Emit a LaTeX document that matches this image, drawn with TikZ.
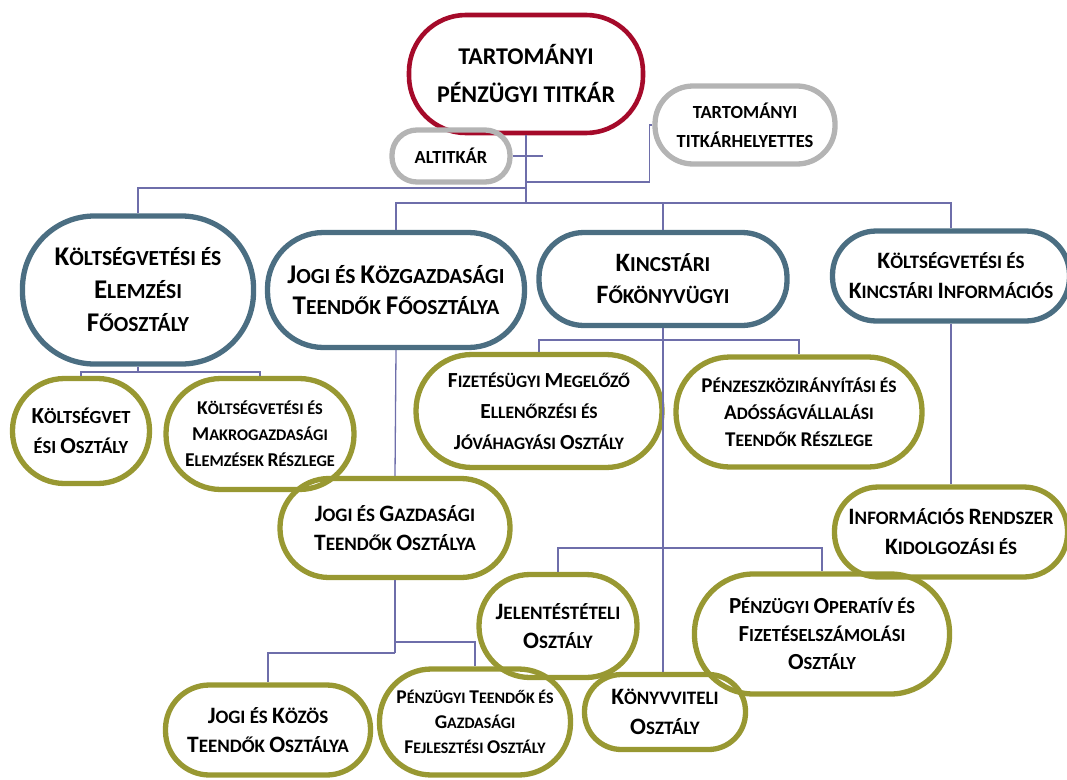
\documentclass[tikz,border=0pt]{standalone}
\usepackage{fontspec}
\setmainfont{Carlito}
\newcommand\scf[3]{\def\capsz{#2}\fontsize{#1}{#3}\selectfont\bfseries}
\newcommand\C[1]{{\fontsize{\capsz}{\capsz}\selectfont #1}}
\definecolor{cred}{RGB}{165,10,42}
\definecolor{cgray}{RGB}{180,180,180}
\definecolor{cblue}{RGB}{75,110,130}
\definecolor{cgreen}{RGB}{152,152,50}
\definecolor{cconn}{RGB}{110,110,170}
\tikzset{
  orgbox/.style={line width=5.3pt, inner sep=0pt, align=center, text=black},
  redbox/.style={orgbox, line width=4.6pt, draw=cred},
  graybox/.style={orgbox, draw=cgray},
  bluebox/.style={orgbox, draw=cblue},
  greenbox/.style={orgbox, draw=cgreen},
  conn/.style={draw=cconn, line width=1.3pt},
}
\begin{document}
\begin{tikzpicture}[x=1pt,y=-1pt]
\useasboundingbox (0,0) rectangle (1067,779);
\clip (0,0) rectangle (1067,779);
% top level
\node[redbox, minimum width=234pt, minimum height=118pt, rounded corners=57pt, font=\scf{24}{24}{38}] (top) at (526,74) {TARTOMÁNYI\\PÉNZÜGYI TITKÁR};
\node[graybox, minimum width=118pt, minimum height=52pt, rounded corners=25pt, font=\scf{18.5}{18.5}{20}] (alt) at (451,156) {ALTITKÁR};
\node[graybox, minimum width=180pt, minimum height=78pt, rounded corners=38pt, font=\scf{18.5}{18.5}{29}] (hely) at (745,125) {TARTOMÁNYI\\TITKÁRHELYETTES};
% blue
\node[bluebox, minimum width=231pt, minimum height=148pt, rounded corners=72pt, font=\scf{21.5}{27}{33}] (b1) at (138,290) {\C{K}ÖLTSÉGVETÉSI ÉS\\\C{E}LEMZÉSI\\\C{F}ŐOSZTÁLY};
\node[bluebox, minimum width=257pt, minimum height=115pt, rounded corners=56pt, font=\scf{21.5}{27}{31}] (b2) at (396,290) {\C{J}OGI ÉS \C{K}ÖZGAZDASÁGI\\\C{T}EENDŐK \C{F}ŐOSZTÁLYA};
\node[bluebox, minimum width=248pt, minimum height=93pt, rounded corners=45pt, font=\scf{21.3}{26.5}{32}] (b3) at (663,279) {\C{K}INCSTÁRI\\\C{F}ŐKÖNYVÜGYI};
\node[bluebox, minimum width=237pt, minimum height=90pt, rounded corners=44pt, font=\scf{19}{23.5}{30}] (b4) at (951,276) {\C{K}ÖLTSÉGVETÉSI ÉS\\\C{K}INCSTÁRI \C{I}NFORMÁCIÓS};
% green
\node[greenbox, minimum width=137pt, minimum height=105pt, rounded corners=52pt, font=\scf{18.5}{23}{30}] (g1) at (81,431) {\C{K}ÖLTSÉGVET\\ÉSI \C{O}SZTÁLY};
\node[greenbox, minimum width=188pt, minimum height=111pt, rounded corners=55pt, font=\scf{16.3}{19.6}{26}] (g2) at (260,434) {\C{K}ÖLTSÉGVETÉSI ÉS\\\C{M}AKROGAZDASÁGI\\\C{E}LEMZÉSEK \C{R}ÉSZLEGE};
\node[greenbox, minimum width=230pt, minimum height=99pt, rounded corners=49pt, font=\scf{19}{23.5}{29}] (g3) at (395,528) {\C{J}OGI ÉS \C{G}AZDASÁGI\\\C{T}EENDŐK \C{O}SZTÁLYA};
\node[greenbox, minimum width=246pt, minimum height=113pt, rounded corners=56pt, font=\scf{17.5}{21.5}{31}] (g4) at (539,411) {\C{F}IZETÉSÜGYI \C{M}EGELŐZŐ\\\C{E}LLENŐRZÉSI ÉS\\\C{J}ÓVÁHAGYÁSI \C{O}SZTÁLY};
\node[greenbox, minimum width=246pt, minimum height=110pt, rounded corners=54pt, font=\scf{17.5}{21}{27}] (g5) at (799,412) {\C{P}ÉNZESZKÖZIRÁNYÍTÁSI ÉS\\\C{A}DÓSSÁGVÁLLALÁSI\\\C{T}EENDŐK \C{R}ÉSZLEGE};
\node[greenbox, minimum width=233pt, minimum height=90pt, rounded corners=44pt, font=\scf{19}{23.5}{30}] (g6) at (951,532) {\C{I}NFORMÁCIÓS \C{R}ENDSZER\\\C{K}IDOLGOZÁSI ÉS};
\node[greenbox, minimum width=158pt, minimum height=103pt, rounded corners=51pt, font=\scf{19}{23.5}{29}] (g7) at (558,626) {\C{J}ELENTÉSTÉTELI\\\C{O}SZTÁLY};
\node[greenbox, minimum width=255pt, minimum height=120pt, rounded corners=59pt, font=\scf{18.5}{23}{28}] (g8) at (822,634) {\C{P}ÉNZÜGYI \C{O}PERATÍV ÉS\\\C{F}IZETÉSELSZÁMOLÁSI\\\C{O}SZTÁLY};
\node[greenbox, minimum width=161pt, minimum height=75pt, rounded corners=37pt, font=\scf{19}{23.5}{30}] (g9) at (665,712) {\C{K}ÖNYVVITELI\\\C{O}SZTÁLY};
\node[greenbox, minimum width=205pt, minimum height=90pt, rounded corners=44pt, font=\scf{19}{23.5}{29}] (g10) at (268,730) {\C{J}OGI ÉS \C{K}ÖZÖS\\\C{T}EENDŐK \C{O}SZTÁLYA};
\node[greenbox, minimum width=191pt, minimum height=106pt, rounded corners=52pt, font=\scf{16}{19.5}{25}] (g11) at (475,722) {\C{P}ÉNZÜGYI \C{T}EENDŐK ÉS\\\C{G}AZDASÁGI\\\C{F}EJLESZTÉSI \C{O}SZTÁLY};
% connectors
\coordinate (hub) at (527,203);
\coordinate (altend) at (543,156);
\coordinate (hj) at (527,182);
\coordinate (lj) at (527,188);
\draw[conn] (top.south) -- (top.south|-hub);
\draw[conn] (alt.east) -- (altend);
\draw[conn] (hely.west) -- ++(-3,0) |- (hj);
\draw[conn] (b1.north) |- (lj);
\draw[conn] (b2.north) |- (hub) -| (b4.north);
\draw[conn] (b3.north) -- (b3.north|-hub);
\coordinate (j1) at (138,372);
\draw[conn] (b1.south) -- (j1);
\draw[conn] (g1.north) |- (j1) -| (g2.north);
\draw[conn] (b2.south) -- (g3.north);
\draw[conn] (b3.south) -- (b3.south|-g9.north);
\coordinate (j3) at (663,340);
\draw[conn] (g4.north) |- (j3) -| (g5.north);
\coordinate (j4) at (663,548);
\draw[conn] (g7.north) |- (j4) -| (g8.north);
\draw[conn] (b4.south) -- (g6.north);
\coordinate (j5) at (395,642);
\coordinate (j6) at (395,653);
\draw[conn] (g3.south) -- (j6);
\draw[conn] (j5) -| (g11.north);
\draw[conn] (j6) -| (g10.north);
\end{tikzpicture}
\end{document}
